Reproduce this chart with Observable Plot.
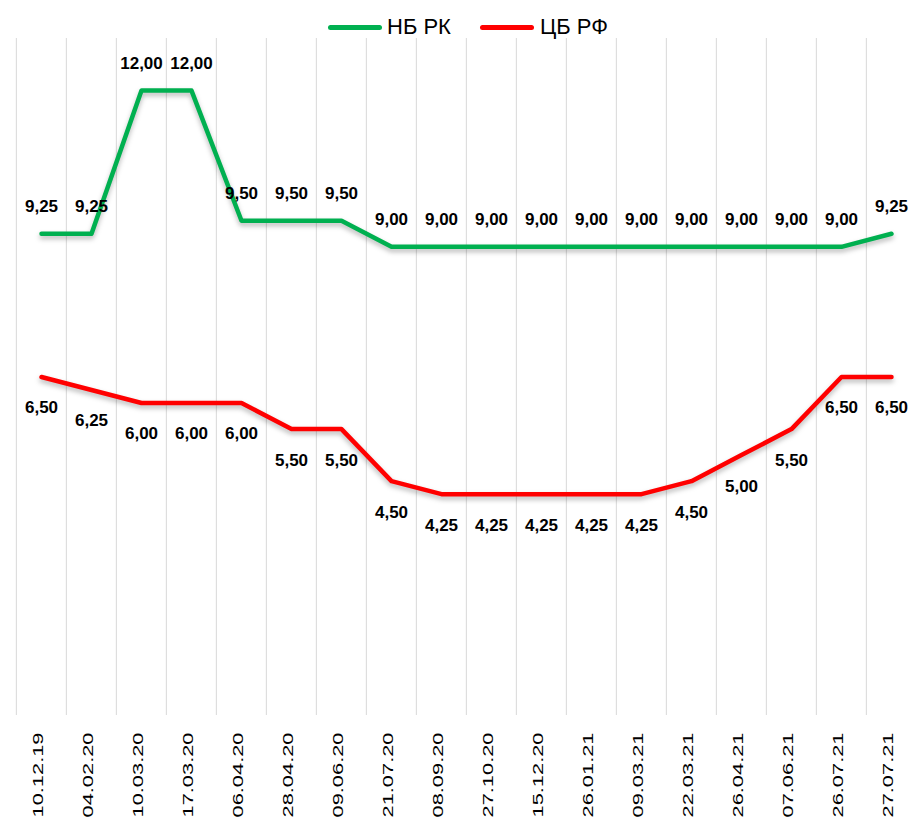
<!DOCTYPE html>
<html><head><meta charset="utf-8">
<script src="https://cdn.jsdelivr.net/npm/d3@7"></script>
<script src="https://cdn.jsdelivr.net/npm/@observablehq/plot@0.6"></script>
<style>
body{margin:0;background:#fff;font-family:"Liberation Sans",Arial,sans-serif;}
#legend{position:relative;height:38px;width:913px;}
.sw{position:absolute;top:24.5px;height:5px;width:54px;border-radius:3px;}
.lt{position:absolute;top:16px;font-size:22px;line-height:22px;color:#000;white-space:nowrap;}
</style>
</head><body>
<div id="legend">
  <div class="sw" style="left:328px;background:#00B050"></div><div class="lt" style="left:387px">НБ РК</div>
  <div class="sw" style="left:480px;background:#FF0000"></div><div class="lt" style="left:540px">ЦБ РФ</div>
</div>
<div id="chart"></div>
<script>
const dates = ["10.12.19","04.02.20","10.03.20","17.03.20","06.04.20","28.04.20","09.06.20","21.07.20","08.09.20","27.10.20","15.12.20","26.01.21","09.03.21","22.03.21","26.04.21","07.06.21","26.07.21","27.07.21"];
const nbrk = [9.25,9.25,12.00,12.00,9.50,9.50,9.50,9.00,9.00,9.00,9.00,9.00,9.00,9.00,9.00,9.00,9.00,9.25];
const cbrf = [6.50,6.25,6.00,6.00,6.00,5.50,5.50,4.50,4.25,4.25,4.25,4.25,4.25,4.50,5.00,5.50,6.50,6.50];
const seriesNames = ["НБ РК","ЦБ РФ"];
const colors = ["#00B050","#FF0000"];

const rows = dates.map((d,i)=>({date:d, nb:nbrk[i], cb:cbrf[i]}));
const fmt = v => v.toFixed(2).replace(".", ",");
const step = (893-38)/(dates.length-1);

const chart = Plot.plot({
  width: 913, height: 788,
  marginTop: 0, marginBottom: 111, marginLeft: 0, marginRight: 0,
  style: {fontFamily: "'Liberation Sans', Arial, sans-serif", background: "#fff", color: "#000"},
  x: {type: "point", domain: dates, range: [38, 893], padding: 0},
  y: {domain: [0, 13], axis: null},
  marks: [
    Plot.ruleX(dates, {x: d => d, y1: 0, y2: 13, dx: -step/2, stroke: "#d9d9d9", strokeWidth: 1}),
    Plot.axisX({tickRotate: -90, tickSize: 0, tickPadding: 17, fontSize: 14, label: null, dx: -3}),
    Plot.line(rows, {x: "date", y: "nb", stroke: colors[0], strokeWidth: 4.5, strokeLinecap: "round", strokeLinejoin: "round"}),
    Plot.line(rows, {x: "date", y: "cb", stroke: colors[1], strokeWidth: 4.5, strokeLinecap: "round", strokeLinejoin: "round"}),
    Plot.text(rows, {x: "date", y: "nb", text: d => fmt(d.nb), dy: -27, fontSize: 17, fontWeight: "bold", fill: "#000"}),
    Plot.text(rows, {x: "date", y: "cb", text: d => fmt(d.cb), dy: 31, fontSize: 17, fontWeight: "bold", fill: "#000"})
  ]
});
document.getElementById("chart").appendChild(chart);
const svg = d3.select(chart);
svg.selectAll('g[aria-label="line"]').style("filter", "drop-shadow(0px 3px 2.5px rgba(0,0,0,0.28))");
svg.selectAll('g[aria-label="x-axis tick label"] text').attr("textLength", 85).attr("lengthAdjust", "spacingAndGlyphs");
</script>
</body></html>
